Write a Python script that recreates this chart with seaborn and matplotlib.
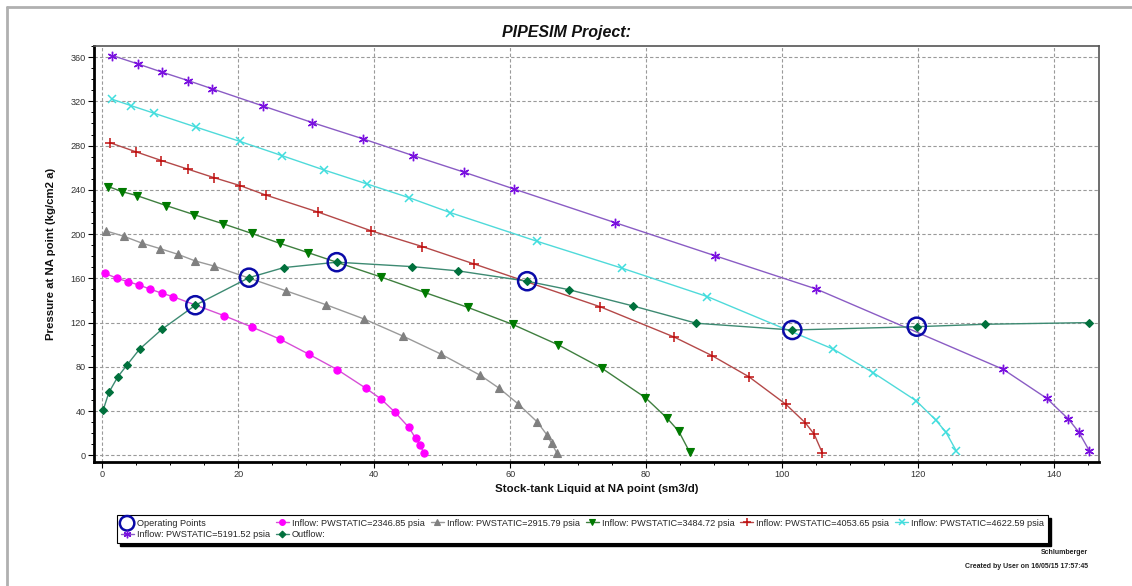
import numpy as np
import pandas as pd
import matplotlib
matplotlib.use("Agg")
import matplotlib.pyplot as plt
import seaborn as sns
from matplotlib.lines import Line2D
from matplotlib.patches import Rectangle
from matplotlib.ticker import MultipleLocator

sns.set_theme(style="white")
plt.rcParams['font.family'] = ['Liberation Sans', 'DejaVu Sans']

# ---------------- text ----------------
title = "PIPESIM Project:"
x_label = "Stock-tank Liquid at NA point (sm3/d)"
y_label = "Pressure at NA point (kg/cm2 a)"
x_ticks = [0, 20, 40, 60, 80, 100, 120, 140]
y_ticks = [0, 40, 80, 120, 160, 200, 240, 280, 320, 360]
footer_1 = "Schlumberger"
footer_2 = "Created by User on 16/05/15 17:57:45"

label_op = "Operating Points"
label_i1 = "Inflow: PWSTATIC=2346.85 psia"
label_i2 = "Inflow: PWSTATIC=2915.79 psia"
label_i3 = "Inflow: PWSTATIC=3484.72 psia"
label_i4 = "Inflow: PWSTATIC=4053.65 psia"
label_i5 = "Inflow: PWSTATIC=4622.59 psia"
label_i6 = "Inflow: PWSTATIC=5191.52 psia"
label_out = "Outflow:"

# ---------------- data ----------------
i1_x = [0.4, 2.2, 3.8, 5.4, 7.0, 8.8, 10.4, 17.9, 22.1, 26.2, 30.4, 34.6, 38.8, 41.0, 43.0, 45.1, 46.1, 46.8, 47.3]
i1_y = [164.6, 160.0, 157.0, 154.0, 150.4, 146.5, 143.5, 126.3, 115.8, 104.9, 91.4, 77.4, 60.6, 51.0, 39.4, 25.3, 15.4, 9.3, 1.8]

i2_x = [0.6, 3.2, 5.9, 8.5, 11.1, 13.7, 16.4, 27.1, 32.9, 38.5, 44.2, 49.8, 55.6, 58.4, 61.2, 64.0, 65.4, 66.1, 66.9]
i2_y = [202.8, 198.0, 191.7, 186.9, 181.8, 175.7, 171.2, 148.6, 136.2, 123.3, 107.9, 91.6, 72.4, 60.6, 46.4, 30.1, 18.6, 10.9, 1.8]

i3_x = [0.9, 2.9, 5.1, 9.4, 13.5, 17.7, 22.0, 26.1, 30.3, 41.0, 47.5, 53.8, 60.4, 67.1, 73.5, 79.9, 83.1, 84.8, 86.4]
i3_y = [243.0, 238.4, 234.8, 225.8, 217.6, 209.5, 200.6, 191.7, 183.2, 161.2, 147.1, 133.7, 118.3, 99.8, 78.7, 52.1, 33.5, 21.7, 3.0]

i4_x = [1.1, 5.0, 8.7, 12.6, 16.4, 20.3, 24.1, 31.8, 39.5, 47.1, 54.7, 73.2, 84.1, 89.7, 95.1, 100.5, 103.4, 104.7, 105.9]
i4_y = [282.7, 274.3, 266.5, 258.7, 251.1, 243.8, 235.2, 219.8, 203.1, 188.7, 173.0, 134.4, 107.0, 90.1, 71.1, 46.4, 29.5, 19.3, 2.4]

i5_x = [1.4, 4.3, 7.6, 13.8, 20.3, 26.4, 32.6, 38.9, 45.1, 51.2, 63.9, 76.5, 89.0, 107.5, 113.4, 119.7, 122.6, 124.1, 125.6]
i5_y = [322.0, 316.0, 309.3, 296.7, 283.7, 271.0, 258.0, 245.4, 233.0, 219.4, 193.6, 169.1, 143.5, 96.1, 74.7, 49.4, 31.9, 20.8, 4.2]

i6_x = [1.5, 5.2, 8.8, 12.6, 16.2, 23.6, 30.9, 38.4, 45.7, 53.2, 60.5, 75.4, 90.1, 105.0, 132.5, 138.9, 142.1, 143.6, 145.2]
i6_y = [361.4, 353.9, 346.4, 338.8, 331.3, 315.9, 300.8, 286.0, 271.0, 256.0, 240.9, 210.4, 180.5, 150.4, 77.8, 51.6, 32.8, 21.3, 3.9]

out_x = [0.15, 1.0, 2.3, 3.7, 5.5, 8.8, 13.7, 21.6, 26.7, 34.5, 45.6, 52.4, 62.5, 68.6, 78.1, 87.4, 101.5, 119.8, 129.9, 145.2]
out_y = [41.0, 57.0, 71.0, 82.0, 96.0, 114.0, 135.7, 160.6, 169.7, 174.6, 170.6, 166.7, 157.4, 149.8, 135.0, 119.4, 113.3, 116.3, 118.5, 120.0]

op_x = [13.7, 21.6, 34.5, 62.5, 101.5, 119.8]
op_y = [135.7, 160.6, 174.6, 157.4, 113.3, 116.3]

# ---------------- styles ----------------
series = [
    (label_i1, i1_x, i1_y, dict(color="#d64fd6", marker="o", markersize=5.2, mfc="#ff00ff", mec="#ff00ff", mew=0.8)),
    (label_i2, i2_x, i2_y, dict(color="#9a9a9a", marker="^", markersize=6.0, mfc="#808080", mec="#808080", mew=0.8)),
    (label_i3, i3_x, i3_y, dict(color="#3f7f3f", marker="v", markersize=6.0, mfc="#007a00", mec="#007a00", mew=0.8)),
    (label_i4, i4_x, i4_y, dict(color="#b44848", marker="+", markersize=7.0, mfc="#c01010", mec="#c01010", mew=1.1)),
    (label_i5, i5_x, i5_y, dict(color="#4fdada", marker="x", markersize=6.0, mfc="#40dede", mec="#40dede", mew=1.1)),
    (label_i6, i6_x, i6_y, dict(color="#8a5cc4", marker=(6, 2, 0), markersize=6.8, mfc="#7a10e0", mec="#7a10e0", mew=1.0)),
    (label_out, out_x, out_y, dict(color="#3d8a72", marker="D", markersize=4.3, mfc="#00703c", mec="#00703c", mew=0.8)),
]

W, H = 1132, 586
fig = plt.figure(figsize=(W / 100, H / 100), dpi=100)
fig.patch.set_facecolor("white")
ax = fig.add_axes([94 / W, 1 - 462 / H, (1099 - 94) / W, (462 - 46) / H])
ax.set_facecolor("white")

for lab, xs, ys, st in series:
    df = pd.DataFrame({"x": xs, "y": ys})
    sns.lineplot(data=df, x="x", y="y", sort=False, estimator=None, ax=ax,
                 color=st["color"], marker=st["marker"], markersize=st["markersize"],
                 markerfacecolor=st["mfc"], markeredgecolor=st["mec"],
                 markeredgewidth=st["mew"], linewidth=1.0, label=lab, legend=False,
                 zorder=3)

op_df = pd.DataFrame({"x": op_x, "y": op_y})
sns.scatterplot(data=op_df, x="x", y="y", ax=ax, marker="o", s=170,
                facecolor="none", edgecolor="#0a0aa8", linewidth=1.8,
                label=label_op, legend=False, zorder=6)

ax.set_xlim(-1.2, 146.6)
ax.set_ylim(-6, 370)
ax.set_xticks(x_ticks)
ax.set_yticks(y_ticks)
ax.xaxis.set_minor_locator(MultipleLocator(5))
ax.yaxis.set_minor_locator(MultipleLocator(10))
ax.tick_params(axis="both", which="major", direction="out", length=4, width=0.8,
               color="black", labelsize=6.6, labelcolor="#333333", pad=2,
               bottom=True, left=True)
ax.tick_params(axis="both", which="minor", direction="out", length=2.5, width=0.7,
               color="black", bottom=True, left=True)
ax.grid(True, which="major", linestyle=(0, (3, 2)), color="#9a9a9a", linewidth=0.8)
ax.set_axisbelow(True)

for side in ["left", "bottom"]:
    ax.spines[side].set_color("black")
    ax.spines[side].set_linewidth(2.0)
for side in ["top", "right"]:
    ax.spines[side].set_color("#555555")
    ax.spines[side].set_linewidth(1.2)

ax.set_xlabel(x_label, fontsize=8.2, fontweight="bold", color="#111111", labelpad=3)
ax.set_ylabel(y_label, fontsize=8.2, fontweight="bold", color="#111111", labelpad=10)

fig.text(0.5, 1 - 33 / H, title, ha="center", va="center", fontsize=11.5,
         fontweight="bold", fontstyle="italic", color="#111111")

# legend
handles, labels = ax.get_legend_handles_labels()
hmap = dict(zip(labels, handles))
order = [label_op, label_i6, label_i1, label_out, label_i2, label_i3, label_i4, label_i5]
leg = fig.legend([hmap[k] for k in order], order, loc="upper left",
                 bbox_to_anchor=(117 / W, 1 - 515 / H), borderaxespad=0, ncol=6,
                 fontsize=6.6, frameon=True, fancybox=False, framealpha=1,
                 edgecolor="black", handlelength=1.4, handletextpad=0.35,
                 columnspacing=0.65, borderpad=0.4, labelspacing=0.25,
                 markerscale=0.8)
leg.get_frame().set_linewidth(0.8)
leg.set_zorder(10)

fig.canvas.draw()
bb = leg.get_window_extent()
shadow = Rectangle((bb.x0 + 3, bb.y0 - 3), bb.width, bb.height, transform=None,
                   facecolor="black", edgecolor="black", zorder=9)
fig.add_artist(shadow)

fig.text(1088 / W, 1 - 552 / H, footer_1, ha="right", va="center", fontsize=5,
         fontweight="bold", color="#222222", zorder=11)
fig.text(1088 / W, 1 - 567 / H, footer_2, ha="right", va="center", fontsize=5,
         fontweight="bold", color="#222222", zorder=11)

# outer frame
fig.add_artist(Line2D([7 / W, 1.0], [1 - 7 / H, 1 - 7 / H], transform=fig.transFigure,
                      color="#b0b0b0", linewidth=2))
fig.add_artist(Line2D([7 / W, 7 / W], [0.0, 1 - 7 / H], transform=fig.transFigure,
                      color="#b0b0b0", linewidth=2))

fig.savefig("out.png", dpi=100, facecolor="white")
